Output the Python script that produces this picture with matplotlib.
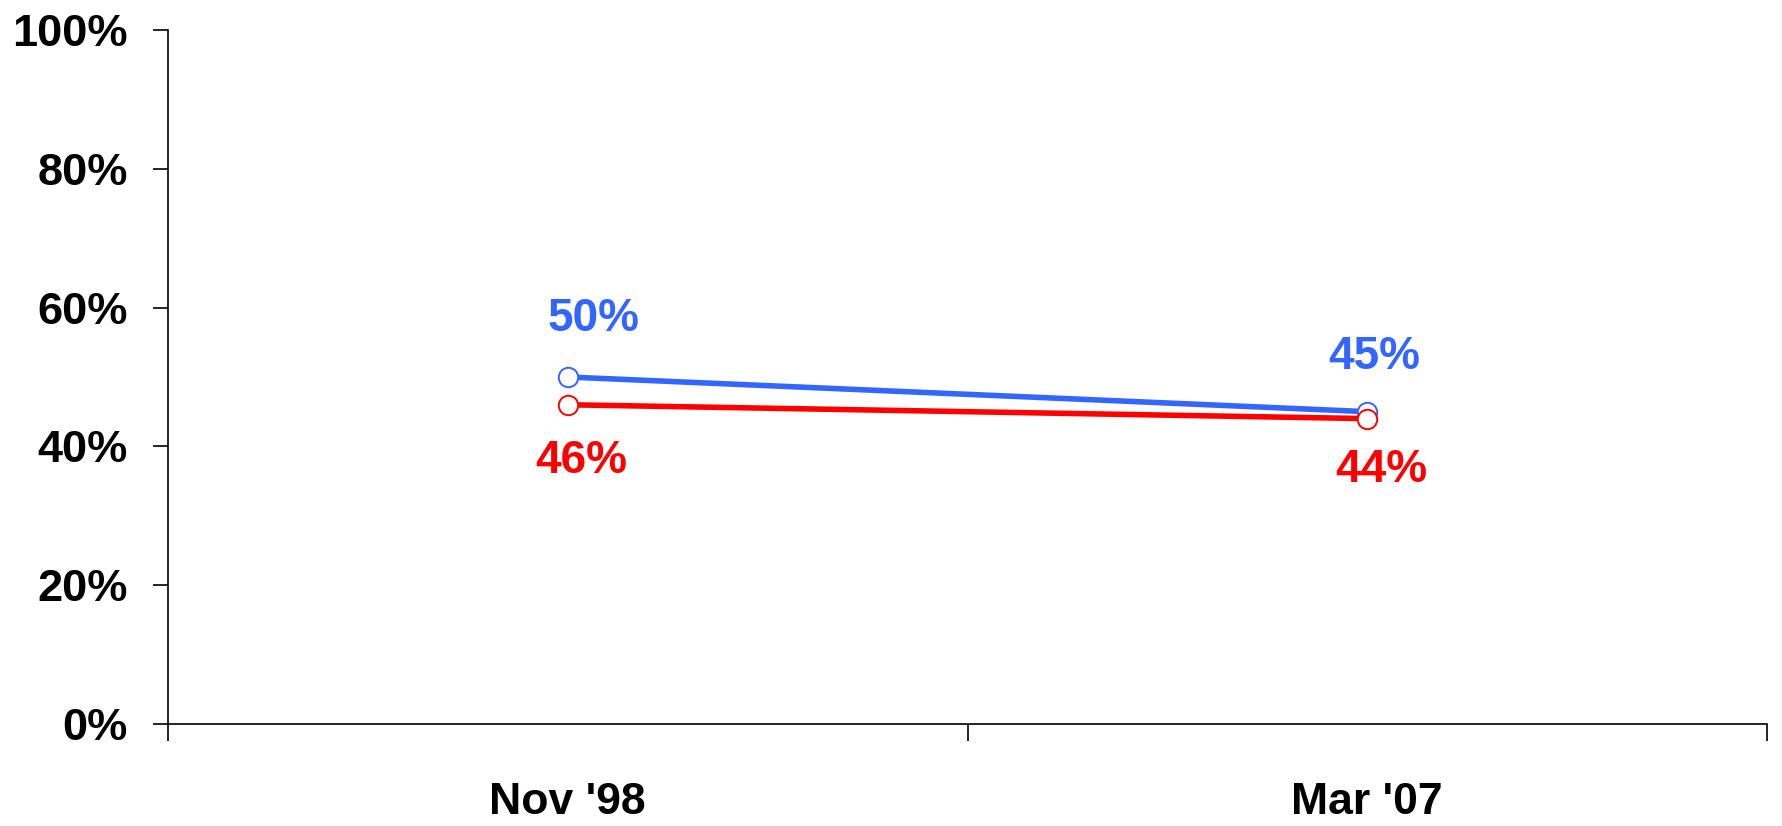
import matplotlib.pyplot as plt
from matplotlib.ticker import FixedLocator, NullFormatter

plt.rcParams['font.family'] = ['Liberation Sans', 'DejaVu Sans']
plt.rcParams['font.weight'] = 'bold'

dates = ["Nov '98", "Mar '07"]
blue_vals = [50, 45]
red_vals = [46, 44]
yticks = [0, 20, 40, 60, 80, 100]

blue = '#3366FF'
red = '#FF0000'

fig = plt.figure(figsize=(17.82, 8.26), dpi=100)
ax = fig.add_axes([0.0943, 0.1235, 0.8973, 0.8402])

xs = [i + 0.5 for i in range(len(dates))]

ax.plot(xs, blue_vals, color=blue, lw=4, marker='o', ms=14,
        mfc='white', mec=blue, mew=1.4, zorder=3)
ax.plot(xs, red_vals, color=red, lw=4, marker='o', ms=14,
        mfc='white', mec=red, mew=1.4, zorder=4)

# data labels
blue_off = [(26, 58), (7, 55)]
red_off = [(13, -56), (14, -51)]
for x, v, o in zip(xs, blue_vals, blue_off):
    ax.annotate(f'{v}%', (x, v), xytext=o, textcoords='offset pixels',
                ha='center', va='center', color=blue, fontsize=33, fontweight='bold')
for x, v, o in zip(xs, red_vals, red_off):
    ax.annotate(f'{v}%', (x, v), xytext=o, textcoords='offset pixels',
                ha='center', va='center', color=red, fontsize=33, fontweight='bold')

ax.set_xlim(0, len(dates))
ax.set_ylim(0, 100)
ax.set_yticks(yticks)
ax.set_yticklabels([f'{t}%' for t in yticks], fontsize=32.5, fontweight='bold')

ax.xaxis.set_major_locator(FixedLocator([0, 1, 2]))
ax.xaxis.set_major_formatter(NullFormatter())
ax.xaxis.set_minor_locator(FixedLocator(xs))
ax.set_xticklabels(dates, minor=True, fontsize=32, fontweight='bold')
ax.tick_params(axis='x', which='minor', length=0, pad=42)
ax.tick_params(axis='x', which='major', length=12, width=1.2)
ax.tick_params(axis='y', length=11, width=1.2, pad=18)

for s in ['top', 'right']:
    ax.spines[s].set_visible(False)
ax.spines['left'].set_linewidth(1.2)
ax.spines['bottom'].set_linewidth(1.2)

fig.savefig('out.png', dpi=100)
